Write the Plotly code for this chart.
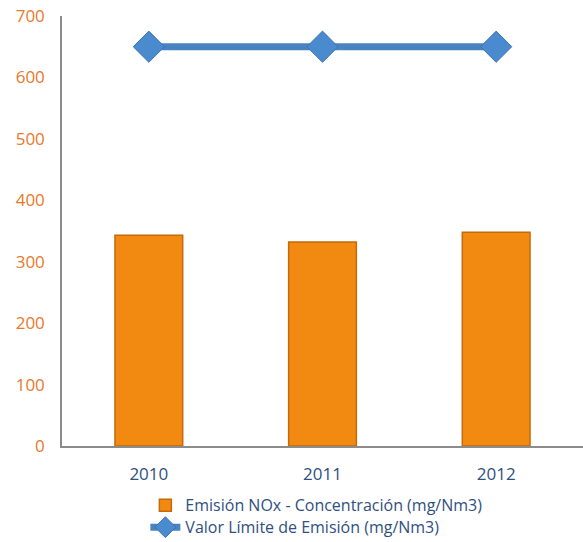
import plotly.graph_objects as go

years = ["2010", "2011", "2012"]
emision_nox = [343, 332, 348]
valor_limite = [650, 650, 650]
y_ticks = [0, 100, 200, 300, 400, 500, 600, 700]

fig = go.Figure()
fig.add_trace(go.Bar(
    x=years, y=emision_nox,
    name="Emisión NOx - Concentración (mg/Nm3)",
    marker=dict(color="#F28A12", line=dict(color="#C46A08", width=1.5)),
    width=0.39,
    legend="legend",
))
fig.add_trace(go.Scatter(
    x=years, y=valor_limite,
    name="Valor Límite de Emisión (mg/Nm3)",
    mode="lines+markers",
    line=dict(color="#4A84C0", width=7),
    marker=dict(symbol="diamond", size=24, color="#4A8BD0",
                line=dict(color="#3C72AE", width=1)),
    legend="legend2",
))

leg_common = dict(orientation="v", xanchor="left", yanchor="middle",
                  font=dict(color="#2F4F7F", size=16), itemwidth=30,
                  bgcolor="rgba(0,0,0,0)")

fig.update_layout(
    width=583, height=542,
    margin=dict(l=62, r=0, t=16, b=96, autoexpand=False),
    plot_bgcolor="white", paper_bgcolor="white",
    font=dict(family="Open Sans, Liberation Sans, sans-serif", size=15),
    showlegend=True,
    legend=dict(x=0.16, y=-0.138, **leg_common),
    legend2=dict(x=0.16, y=-0.189, **leg_common),
    xaxis=dict(showline=True, linecolor="#8C8C8C", linewidth=1.5, showgrid=False,
               ticks="", tickfont=dict(color="#2F4F7F", size=17), ticklabelstandoff=12),
    yaxis=dict(range=[0, 700], tickvals=y_ticks, showline=True, linecolor="#8C8C8C",
               linewidth=1.5, showgrid=False, zeroline=False, ticks="",
               tickfont=dict(color="#E8782A", size=17), ticklabelstandoff=12),
)

fig.write_html("out.html")
